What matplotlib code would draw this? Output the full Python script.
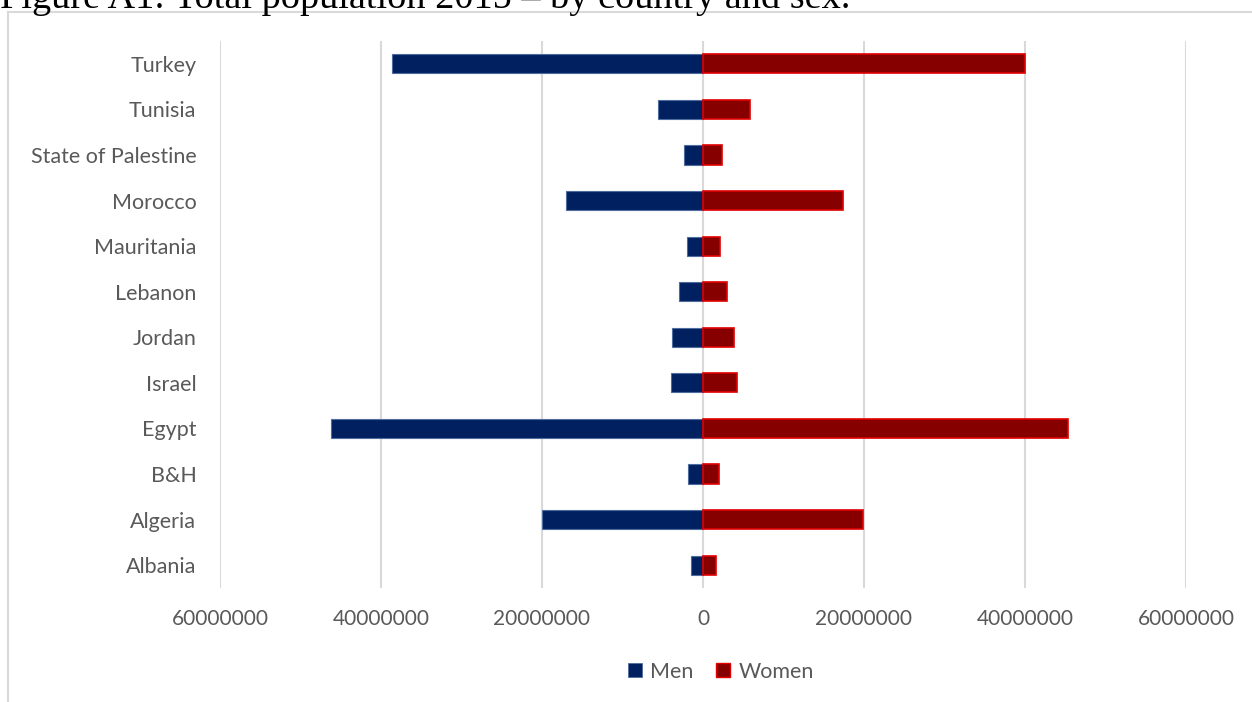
import matplotlib.pyplot as plt
from matplotlib.lines import Line2D

plt.rcParams['font.family'] = ['Lato', 'DejaVu Sans']

W, H = 1252, 702

countries = ['Albania', 'Algeria', 'B&H', 'Egypt', 'Israel', 'Jordan', 'Lebanon',
             'Mauritania', 'Morocco', 'State of Palestine', 'Tunisia', 'Turkey']
men = [1450000, 19970000, 1910000, 46200000, 4010000, 3890000, 2940000,
       2030000, 16990000, 2400000, 5580000, 38650000]
women = [1560000, 19840000, 2020000, 45330000, 4170000, 3800000, 2970000,
         2060000, 17430000, 2390000, 5780000, 40060000]
xticks = [-60000000, -40000000, -20000000, 0, 20000000, 40000000, 60000000]
xtick_labels = ['60000000', '40000000', '20000000', '0',
                '20000000', '40000000', '60000000']

men_color = '#002060'
women_color = '#870000'
text_color = '#595959'
grid_color = '#D9D9D9'

fig = plt.figure(figsize=(W / 100, H / 100), dpi=100)

# chart frame (left and top edges, rest runs off the page)
fig.add_artist(Line2D([8 / W, 8 / W], [0, 1 - 12 / H], color=grid_color, lw=1.5))
fig.add_artist(Line2D([8 / W, 1], [1 - 12 / H, 1 - 12 / H], color=grid_color, lw=1.5))

fig.text(0, 1 - 8 / H, 'Figure A1: Total population 2015 \u2013 by country and sex.',
         family='Liberation Serif', fontsize=27.5, color='black', va='baseline', ha='left')

ax = fig.add_axes([220 / W, 1 - 588 / H, 966 / W, 547 / H])
y = list(range(len(countries)))
ax.barh(y, [-m for m in men], height=0.42, color=men_color,
        edgecolor='#4F6C9E', linewidth=0.8, zorder=3)
ax.barh(y, women, height=0.42, color=women_color,
        edgecolor='#E00000', linewidth=1.2, zorder=3)

ax.set_xlim(-60000000, 60000000)
ax.set_ylim(-0.5, len(countries) - 0.5)
ax.set_xticks(xticks)
ax.set_xticklabels(xtick_labels)
ax.set_yticks(y)
ax.set_yticklabels(countries)
ax.tick_params(axis='both', length=0, labelcolor=text_color)
ax.tick_params(axis='x', pad=15, labelsize=15)
ax.tick_params(axis='y', pad=17, labelsize=15.5)
ax.grid(axis='x', color=grid_color, lw=1.5, zorder=0)
for s in ax.spines.values():
    s.set_visible(False)

handles = [
    Line2D([], [], ls='none', marker='s', markersize=10.5, markerfacecolor=men_color,
           markeredgecolor='#4F6C9E', markeredgewidth=0.6, label='Men'),
    Line2D([], [], ls='none', marker='s', markersize=10.5, markerfacecolor=women_color,
           markeredgecolor='#E00000', markeredgewidth=1.0, label='Women'),
]
fig.legend(handles=handles, loc='center', bbox_to_anchor=(720 / W, 1 - 672 / H),
           ncol=2, frameon=False, fontsize=15.5, labelcolor=text_color,
           handlelength=0.8, handletextpad=0.3, columnspacing=1.0)

fig.savefig('out.png', dpi=100)
